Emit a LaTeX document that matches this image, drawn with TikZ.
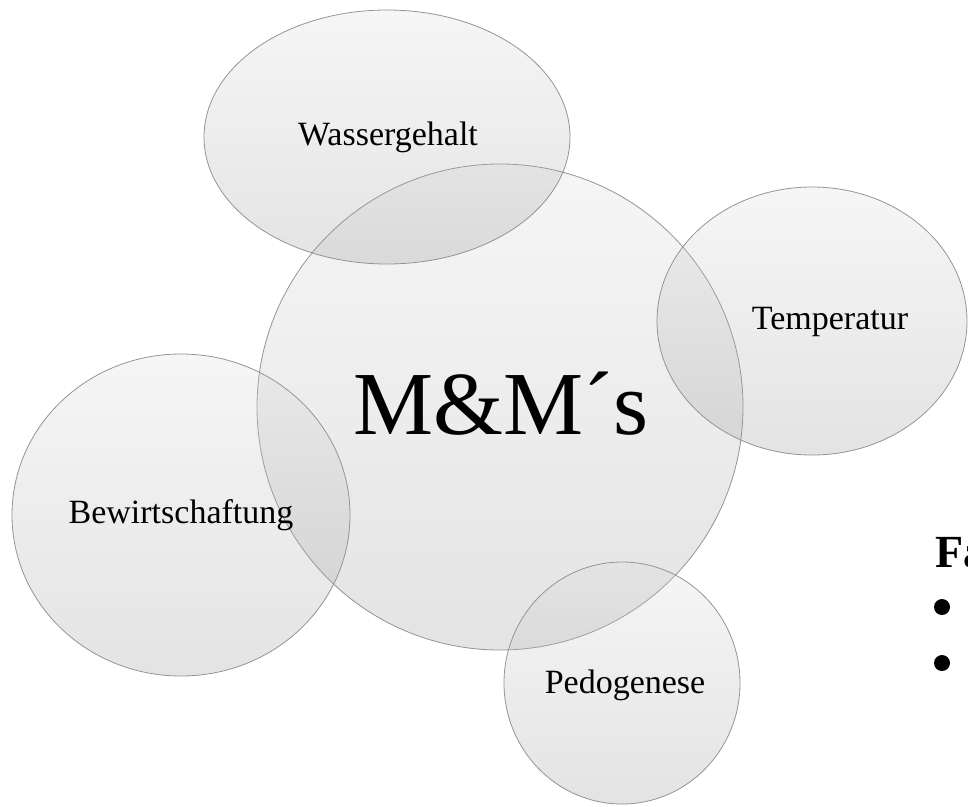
\documentclass[tikz,border=0pt]{standalone}
\usepackage{fontspec}
\setmainfont{Liberation Serif}
\usetikzlibrary{calc}

\tikzset{
  bubble/.style={draw=black!42, line width=0.8pt, top color=black!15, bottom color=black!45, fill opacity=0.24},
  bubbletext/.style={font=\fontsize{34}{40}\selectfont, inner sep=0pt, anchor=base},
}

\begin{document}
\begin{tikzpicture}[x=1pt,y=-1pt]

\useasboundingbox (0,0) rectangle (968,806);
\clip (0,0) rectangle (968,806);

\coordinate (MMCenter) at (500,407);
\coordinate (WasserCenter) at (387,137);
\coordinate (TempCenter) at (812,321);
\coordinate (BewCenter) at (181,515);
\coordinate (PedoCenter) at (622,683);

	% big circle in the middle
	\shade[bubble] (MMCenter) circle (243pt);
	% the four around it
	\shade[bubble] (WasserCenter) ellipse (183pt and 127pt);
	\shade[bubble] (TempCenter) ellipse (155pt and 134pt);
	\shade[bubble] (BewCenter) ellipse (169pt and 161pt);
	\shade[bubble] (PedoCenter) ellipse (118pt and 121pt);

	% labels
	\node[font=\fontsize{90}{100}\selectfont, inner sep=0pt] (mmtext) at (501,404) {M\&M´s};
	\node[bubbletext] (wassertext) at (388,145) {Wassergehalt};
	\node[bubbletext] (temptext) at (830,329) {Temperatur};
	\node[bubbletext] (bewtext) at (181,523) {Bewirtschaftung};
	\node[bubbletext] (pedotext) at (625,693) {Pedogenese};

	% list on the right, cut off by the page
	\node[font=\fontsize{46}{52}\selectfont\bfseries, inner sep=0pt, anchor=base west] (fatext) at (935,567) {Fa};
	% list bullets
	\fill (942,607) circle (8pt);
	\fill (942,663) circle (8pt);

\end{tikzpicture}
\end{document}
